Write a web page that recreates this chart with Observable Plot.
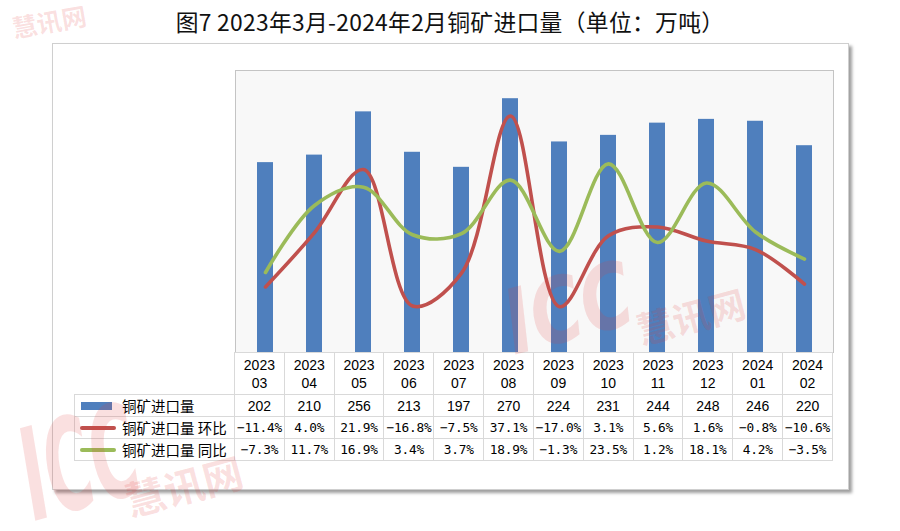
<!DOCTYPE html>
<html>
<head>
<meta charset="utf-8">
<script src="https://cdn.jsdelivr.net/npm/d3@7"></script>
<script src="https://cdn.jsdelivr.net/npm/@observablehq/plot@0.6"></script>
<style>
  html, body { margin: 0; padding: 0; background: #fff; }
  body { width: 900px; height: 531px; overflow: hidden; position: relative; font-family: "Noto Sans CJK SC", sans-serif; }
  #title { position: absolute; top: 5px; left: 0; width: 900px; text-align: center; font-size: 22.8px; color: #111; letter-spacing: 0.3px; }
  #box { position: absolute; left: 52px; top: 43px; width: 795px; height: 445px; border: 1px solid #cfcfcf; box-shadow: 3px 3px 3px rgba(0,0,0,0.38); background: #fff; }
  .layer { position: absolute; left: 0; top: 0; }
  #tbl { position: absolute; left: 74px; top: 352px; border-collapse: collapse; table-layout: fixed; width: 759px; }
  #tbl td { border: 1px solid #d9d9d9; padding: 0; text-align: center; color: #000; white-space: nowrap; overflow: visible; }
  #tbl tr.cat td { height: 41px; font-family: "Liberation Sans", Arial, sans-serif; font-size: 14px; line-height: 18px; }
  #tbl tr.cat td.blank { border-top: none; border-left: none; }
  #tbl tr.row td { height: 21px; }
  #tbl tr.vol td.v { font-family: "Liberation Sans", Arial, sans-serif; font-size: 14px; }
  #tbl tr.pct td.v { font-family: "DejaVu Sans Mono", monospace; font-size: 12.8px; letter-spacing: -0.2px; }
  #tbl td.leg { position: relative; text-align: left; }
  .sw { position: absolute; }
  .lt { position: absolute; left: 47px; top: 50%; transform: translateY(-52%); font-size: 14.5px; font-family: "Noto Sans CJK SC", sans-serif; }
  #wm { position: absolute; left: 0; top: 0; pointer-events: none; }
  #wm text { fill: #e13c3c; fill-opacity: 0.16; }
  #wm .icc { font-family: "DejaVu Sans", sans-serif; font-weight: bold; font-style: italic; }
  #wm .cn { font-family: "Noto Sans CJK SC", sans-serif; font-weight: bold; }
</style>
</head>
<body>
<div id="title">图7 2023年3月-2024年2月铜矿进口量（单位：万吨）</div>
<div id="box"></div>
<div id="chart"></div>
<table id="tbl"></table>
<svg id="wm" width="900" height="531" viewBox="0 0 900 531">
  <text class="cn" font-size="25" transform="translate(14,38) rotate(-10)">慧讯网</text>
  <text class="icc" font-size="128" transform="translate(34,521) rotate(-15) scale(0.5,1)">ICC</text>
  <text class="cn" font-size="40" transform="translate(130,517) rotate(-15)">慧讯网</text>
  <text class="icc" font-size="90" transform="translate(514,355) rotate(-15) scale(0.78,1)">ICC</text>
  <text class="cn" font-size="37" transform="translate(641,345) rotate(-15)">慧讯网</text>
</svg>
<script>
// ---- data ----
const months = ["2023-03","2023-04","2023-05","2023-06","2023-07","2023-08","2023-09","2023-10","2023-11","2023-12","2024-01","2024-02"];
const imports = [202, 210, 256, 213, 197, 270, 224, 231, 244, 248, 246, 220];
const momPct = [-11.4, 4.0, 21.9, -16.8, -7.5, 37.1, -17.0, 3.1, 5.6, 1.6, -0.8, -10.6];
const yoyPct = [-7.3, 11.7, 16.9, 3.4, 3.7, 18.9, -1.3, 23.5, 1.2, 18.1, 4.2, -3.5];
const seriesNames = ["铜矿进口量", "铜矿进口量 环比", "铜矿进口量 同比"];

const barColor = "#4f7fbd";
const momColor = "#c0504d";
const yoyColor = "#9bbb59";

const W = 900, H = 531;
const margins = { marginLeft: 235, marginRight: 67, marginTop: 70, marginBottom: 179 };

const barData = months.map((m, i) => ({ month: m, value: imports[i] }));
const lineData = [
  ...months.map((m, i) => ({ month: m, pct: momPct[i], series: seriesNames[1] })),
  ...months.map((m, i) => ({ month: m, pct: yoyPct[i], series: seriesNames[2] }))
];

const barsPlot = Plot.plot({
  width: W, height: H, ...margins,
  style: { background: "transparent", overflow: "visible" },
  x: { type: "band", domain: months, paddingInner: 0.68, paddingOuter: 0.34, axis: null },
  y: { domain: [0, 300], axis: null },
  marks: [
    Plot.frame({ fill: "#f8f8f8", stroke: "#c4c4c4" }),
    Plot.barY(barData, { x: "month", y: "value", fill: barColor })
  ]
});
barsPlot.classList.add("layer");

const linesPlot = Plot.plot({
  width: W, height: H, ...margins,
  style: { background: "transparent", overflow: "visible" },
  x: { type: "point", domain: months, padding: 0.5, axis: null },
  y: { domain: [-30, 50], axis: null },
  color: { domain: [seriesNames[1], seriesNames[2]], range: [momColor, yoyColor] },
  marks: [
    Plot.line(lineData, { x: "month", y: "pct", stroke: "series", z: "series", curve: "catmull-rom", strokeWidth: 3.6, strokeLinecap: "round", strokeLinejoin: "round" })
  ]
});
linesPlot.classList.add("layer");

const chart = document.getElementById("chart");
chart.appendChild(barsPlot);
chart.appendChild(linesPlot);

// ---- data table under the chart ----
const tbl = document.getElementById("tbl");
const colW = (W - margins.marginLeft - margins.marginRight) / months.length;
let html = '<colgroup><col style="width:160px">' + months.map(() => `<col style="width:${colW}px">`).join("") + '</colgroup>';
html += '<tr class="cat"><td class="blank"></td>' + months.map(m => {
  const [y, mo] = m.split("-");
  return `<td>${y}<br>${mo}</td>`;
}).join("") + '</tr>';
const fmtPct = v => (v < 0 ? "\u2212" : "") + Math.abs(v).toFixed(1) + "%";
html += `<tr class="row vol"><td class="leg"><span class="sw" style="left:6px;top:7px;width:31px;height:8px;background:${barColor}"></span><span class="lt">${seriesNames[0]}</span></td>` +
  imports.map(v => `<td class="v">${v}</td>`).join("") + '</tr>';
html += `<tr class="row pct"><td class="leg"><span class="sw" style="left:5px;top:9px;width:36px;height:4px;border-radius:2px;background:${momColor}"></span><span class="lt">${seriesNames[1]}</span></td>` +
  momPct.map(v => `<td class="v">${fmtPct(v)}</td>`).join("") + '</tr>';
html += `<tr class="row pct"><td class="leg"><span class="sw" style="left:5px;top:9px;width:36px;height:4px;border-radius:2px;background:${yoyColor}"></span><span class="lt">${seriesNames[2]}</span></td>` +
  yoyPct.map(v => `<td class="v">${fmtPct(v)}</td>`).join("") + '</tr>';
tbl.innerHTML = html;
</script>
</body>
</html>
